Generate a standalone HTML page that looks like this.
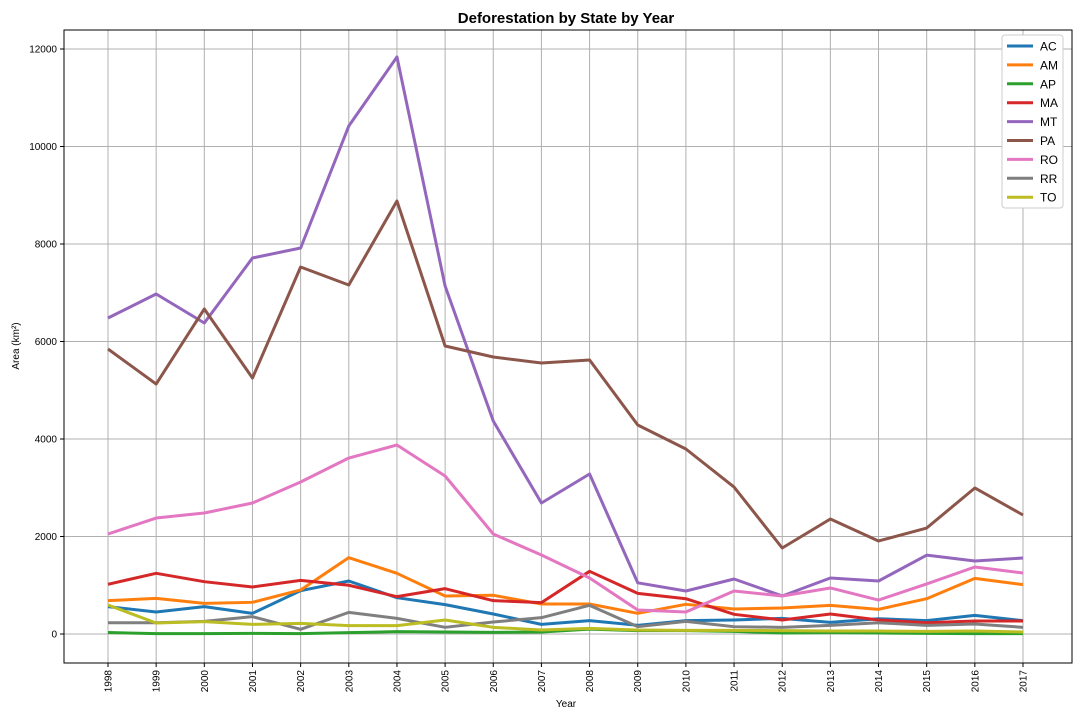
<!DOCTYPE html>
<html><head><meta charset="utf-8"><style>
body{margin:0;background:#fff;font-family:"Liberation Sans","DejaVu Sans",sans-serif}
svg text{font-family:"Liberation Sans","DejaVu Sans",sans-serif}
</style></head><body>
<svg id="chart" width="1080" height="720" xmlns="http://www.w3.org/2000/svg">
<rect width="1080" height="720" fill="#fff"/>
<text x="566" y="23" text-anchor="middle" font-size="15" font-weight="bold">Deforestation by State by Year</text>
<text transform="translate(19,346) rotate(-90)" text-anchor="middle" font-size="10">Area (km²)</text>
<text x="566" y="707" text-anchor="middle" font-size="10">Year</text>
<g id="grid"></g><g id="series"></g>
<rect x="64" y="30" width="1008" height="633" fill="none" stroke="#000" stroke-width="1"/>
<g id="axes"></g><g id="legend"></g>
</svg>
<script>
const years=[1998,1999,2000,2001,2002,2003,2004,2005,2006,2007,2008,2009,2010,2011,2012,2013,2014,2015,2016,2017];
const yTicks=[0,2000,4000,6000,8000,10000,12000];
const states=["AC","AM","AP","MA","MT","PA","RO","RR","TO"];
const colors=["#1f77b4","#ff7f0e","#2ca02c","#d62728","#9467bd","#8c564b","#e377c2","#7f7f7f","#bcbd22"];
const AC=[561,451,561,424,889,1087,745,602,410,198,274,178,274,287,321,239,314,274,383,274];
const AM=[684,731,629,650,903,1566,1245,780,794,615,615,424,609,513,533,588,506,724,1142,1012];
const AP=[30,7,7,14,7,27,48,41,34,41,100,68,68,55,20,27,20,14,7,7];
const MA=[1020,1245,1073,964,1100,1000,766,930,684,643,1286,834,724,404,287,410,287,232,267,267];
const MT=[6482,6974,6379,7713,7918,10420,11836,7138,4369,2687,3282,1050,882,1128,780,1149,1087,1617,1497,1559];
const PA=[5846,5128,6667,5251,7528,7159,8882,5908,5682,5559,5621,4287,3795,3015,1764,2359,1908,2174,2995,2441];
const RO=[2051,2379,2482,2687,3118,3610,3877,3241,2051,1620,1149,492,451,882,780,944,697,1026,1374,1251];
const RR=[232,232,260,356,96,444,321,137,246,335,588,150,260,150,137,178,232,178,205,137];
const TO=[595,226,253,198,219,171,171,287,137,82,116,82,75,75,68,61,61,55,61,40];
const seriesData=[AC,AM,AP,MA,MT,PA,RO,RR,TO];
const NS="http://www.w3.org/2000/svg";
const x=yr=>108+(yr-1998)*(915/19);
const y=v=>634-v*0.04875;
function mk(t,a,p){const e=document.createElementNS(NS,t);for(const k in a)e.setAttribute(k,a[k]);p.appendChild(e);return e;}
const grid=document.getElementById('grid'),axes=document.getElementById('axes');
years.forEach(yr=>{
 const g=mk('line',{x1:x(yr),x2:x(yr),y1:30,y2:663,stroke:'#b0b0b0','stroke-width':1},grid);
 
 
 mk('line',{x1:x(yr),x2:x(yr),y1:663,y2:667,stroke:'#000'},axes);
 const t=mk('text',{transform:`translate(${x(yr)+3.5},670) rotate(-90)`,'text-anchor':'end','font-size':10},axes);
 t.textContent=yr;
 
 
});
yTicks.forEach(v=>{
 const g=mk('line',{x1:64,x2:1072,y1:y(v),y2:y(v),stroke:'#b0b0b0','stroke-width':1},grid);
 
 
 mk('line',{x1:60,x2:64,y1:y(v),y2:y(v),stroke:'#000'},axes);
 const t=mk('text',{x:57,y:y(v)+3.5,'text-anchor':'end','font-size':10},axes);
 t.textContent=v;
 
 
});
const sg=document.getElementById('series');
seriesData.forEach((d,i)=>{
 const p=mk('polyline',{points:d.map((v,j)=>x(years[j])+','+y(v)).join(' '),fill:'none',stroke:colors[i],'stroke-width':3,'stroke-linejoin':'round'},sg);
 
 
});
const lg=document.getElementById('legend');
const box=mk('rect',{x:1002,y:35,width:61,height:173,fill:'#fff',stroke:'#ccc',rx:3},lg);


states.forEach((s,i)=>{
 const yy=46+i*18.9;
 mk('line',{x1:1007,x2:1033,y1:yy,y2:yy,stroke:colors[i],'stroke-width':3},lg);
 const t=mk('text',{x:1040,y:yy+4.5,'font-size':12},lg);
 t.textContent=s;
 
 
});
</script>
</body></html>
